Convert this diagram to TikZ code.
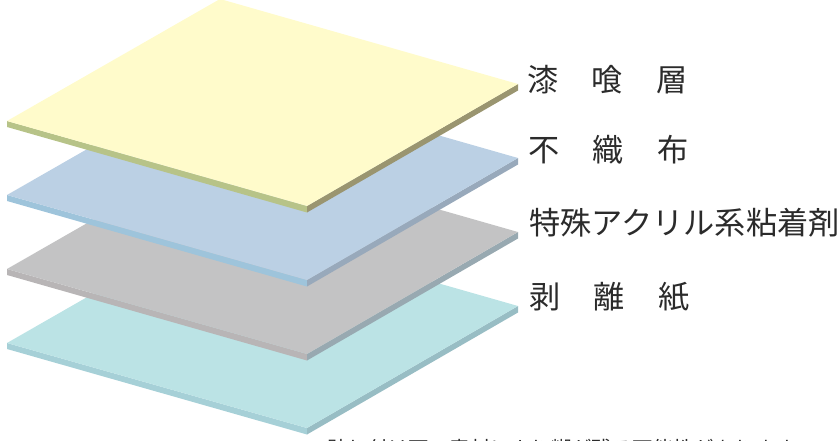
\documentclass[tikz,border=0pt]{standalone}
\usepackage{fontspec}
\newfontfamily\jpfont{Noto Sans CJK JP}
\definecolor{faceA}{HTML}{FFFBCB}\definecolor{leftA}{HTML}{B7C388}\definecolor{rightA}{HTML}{9A9570}
\definecolor{faceB}{HTML}{BBD0E4}\definecolor{leftB}{HTML}{9EC4DB}\definecolor{rightB}{HTML}{98A9BB}
\definecolor{faceC}{HTML}{C3C3C4}\definecolor{leftC}{HTML}{B8B5B6}\definecolor{rightC}{HTML}{98A9B1}
\definecolor{faceD}{HTML}{BBE3E5}\definecolor{leftD}{HTML}{A6D0D7}\definecolor{rightD}{HTML}{98BDC4}
\definecolor{inkjp}{HTML}{2B2B2B}
\tikzset{
  layerlabel/.style={anchor=base west,inner sep=0pt,text=inkjp,font=\jpfont\fontsize{31.2}{31.2}\selectfont},
  notelabel/.style={anchor=base west,inner sep=0pt,text=inkjp,font=\jpfont\fontsize{20.4}{20.4}\selectfont}
}
% #1 vertical offset, #2 face, #3 left side, #4 right side
\newcommand{\sheet}[4]{%
  \fill[#3] (7,121+#1) -- (307,206+#1) -- (307,212.5+#1) -- (7,127+#1) -- cycle;
  \fill[#4] (307,206+#1) -- (518,84+#1) -- (518,90.5+#1) -- (307,212.5+#1) -- cycle;
  \fill[#2] (7,121+#1) -- (220,-1+#1) -- (518,84+#1) -- (307,206+#1) -- cycle;
}
\newcommand{\gapjp}{\hspace{33.2pt}}
\begin{document}
\begin{tikzpicture}[x=1pt,y=-1pt]
\useasboundingbox (0,0) rectangle (840,441);
\sheet{222}{faceD}{leftD}{rightD}
\sheet{148}{faceC}{leftC}{rightC}
\sheet{74}{faceB}{leftB}{rightB}
\sheet{0}{faceA}{leftA}{rightA}
\node[layerlabel] (plaster) at (527,92) {漆\gapjp 喰\gapjp 層};
\node[layerlabel] (fabric) at (528,161.5) {不\gapjp 織\gapjp 布};
\node[layerlabel] (adhesive) at (529,234.5) {特殊アクリル系粘着剤};
\node[layerlabel] (liner) at (529,308.5) {剥\gapjp 離\gapjp 紙};
\node[notelabel] (note) at (327,456.5) {貼り付け面の素材により糊が残る可能性があります。};
\end{tikzpicture}
\end{document}
